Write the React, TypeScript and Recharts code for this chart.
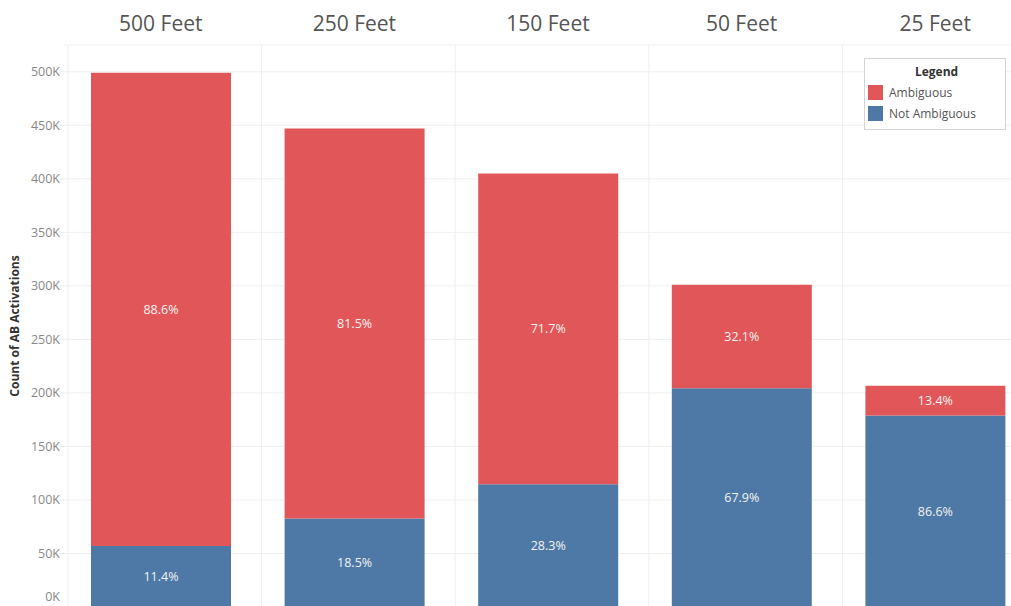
import { BarChart, Bar, XAxis, YAxis, CartesianGrid, Legend, LabelList } from "recharts";

const distances = ["500 Feet", "250 Feet", "150 Feet", "50 Feet", "25 Feet"];
const notAmbiguous = [56900, 82700, 114600, 204400, 178900];
const ambiguous = [442100, 364300, 290400, 96600, 27700];
const yTicks = [0, 50000, 100000, 150000, 200000, 250000, 300000, 350000, 400000, 450000, 500000];

const RED = "#E15759";
const BLUE = "#4E79A7";
const FONT = "'Open Sans', 'Noto Sans', sans-serif";

const pct = (part: number, total: number) => ((part / total) * 100).toFixed(1) + "%";

const data = distances.map((d, i) => {
  const total = notAmbiguous[i] + ambiguous[i];
  return {
    name: d,
    notAmbiguous: notAmbiguous[i],
    ambiguous: ambiguous[i],
    notAmbLabel: pct(notAmbiguous[i], total),
    ambLabel: pct(ambiguous[i], total),
  };
});

const YTick = (props: any) => {
  const { x, y, payload } = props;
  return (
    <text x={x} y={Math.min(y, 597)} dy="0.35em" textAnchor="end" fill="#888" fontSize={12.5} fontFamily={FONT}>
      {payload.value / 1000 + "K"}
    </text>
  );
};

// panel dividers sit at the start of each category band
const panelEdges = ({ offset }: any) => {
  const band = offset.width / distances.length;
  return distances.map((_, k) => offset.left + k * band + 4);
};

const LegendBox = (props: any) => {
  const items = props.payload || [];
  return (
    <div
      style={{
        border: "1px solid #d4d4d4",
        background: "#fff",
        fontFamily: FONT,
        fontSize: 12,
        color: "#555",
        padding: "4px 0 5px 3px",
        width: 142,
        boxSizing: "border-box",
      }}
    >
      <div style={{ textAlign: "center", fontWeight: "bold", color: "#333", marginBottom: 2 }}>Legend</div>
      {items.map((it: any) => (
        <div key={it.value} style={{ display: "flex", alignItems: "center", height: 21 }}>
          <span style={{ width: 15, height: 15, background: it.color, display: "inline-block", marginRight: 6 }} />
          {it.value}
        </div>
      ))}
    </div>
  );
};

export default function App() {
  return (
    <div style={{ position: "fixed", top: 0, left: 0, width: 1011, height: 606, overflow: "hidden", background: "#fff" }}>
      <BarChart
        width={1032}
        height={612}
        data={data}
        margin={{ top: 5, right: 0, left: 0, bottom: 5 }}
        barSize={140}
        style={{ fontFamily: FONT }}
      >
        <CartesianGrid stroke="#efefef" verticalCoordinatesGenerator={panelEdges} />
        <XAxis
          dataKey="name"
          orientation="top"
          height={40}
          axisLine={false}
          tickLine={false}
          tickSize={0}
          tickMargin={14}
          tick={{ fill: "#555", fontSize: 21, fontFamily: FONT }}
        />
        <YAxis
          width={64}
          domain={[0, 525000]}
          ticks={yTicks}
          interval={0}
          axisLine={false}
          tickSize={4}
          tickMargin={0}
          tickLine={{ stroke: "#e8e8e8" }}
          tick={<YTick />}
          label={{
            value: "Count of AB Activations",
            angle: -90,
            position: "insideLeft",
            dx: 10,
            style: { textAnchor: "middle", fontWeight: "bold", fontSize: 12, fill: "#333", fontFamily: FONT },
          }}
        />
        <Legend
          layout="vertical"
          align="center"
          verticalAlign="middle"
          content={<LegendBox />}
          wrapperStyle={{ position: "absolute", top: 58, left: 864, width: 142 }}
        />
        <Bar dataKey="notAmbiguous" name="Not Ambiguous" stackId="a" fill={BLUE} isAnimationActive={false}>
          <LabelList dataKey="notAmbLabel" position="center" fill="#f2f2f2" fontSize={12.5} fontFamily={FONT} />
        </Bar>
        <Bar dataKey="ambiguous" name="Ambiguous" stackId="a" fill={RED} isAnimationActive={false}>
          <LabelList dataKey="ambLabel" position="center" fill="#f2f2f2" fontSize={12.5} fontFamily={FONT} />
        </Bar>
      </BarChart>
    </div>
  );
}
